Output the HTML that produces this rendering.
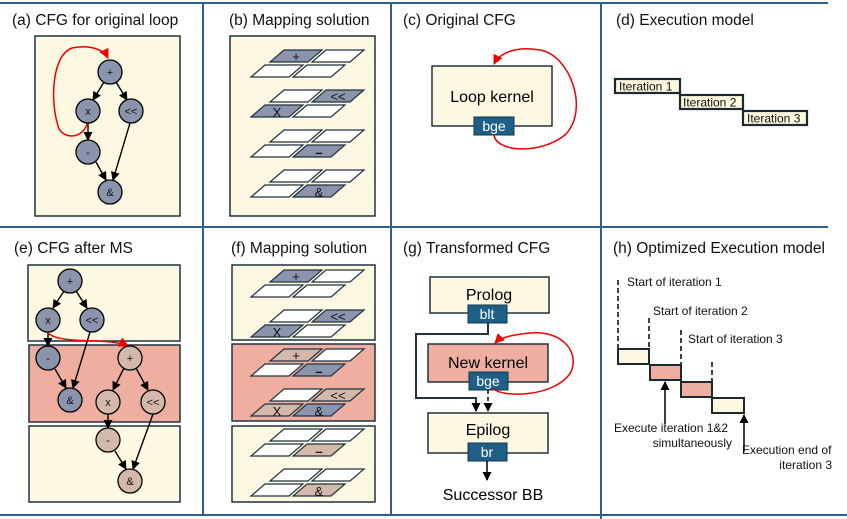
<!DOCTYPE html>
<html><head><meta charset="utf-8"><style>
html,body{margin:0;padding:0;background:#fff;}
svg{display:block;font-family:"Liberation Sans",sans-serif;}
</style></head><body>
<svg width="847" height="519" viewBox="0 0 847 519" xmlns="http://www.w3.org/2000/svg">
<defs>
<marker id="ab" markerWidth="9" markerHeight="9" refX="8" refY="4.5" orient="auto" markerUnits="userSpaceOnUse"><path d="M0,0 L9,4.5 L0,9 z" fill="#000"/></marker>
<marker id="ar" markerWidth="10" markerHeight="10" refX="9" refY="5" orient="auto" markerUnits="userSpaceOnUse"><path d="M0,0 L10,5 L0,10 z" fill="#e00"/></marker>
</defs>
<g stroke="#2e6189" stroke-width="2">
<line x1="0" y1="3" x2="828" y2="3"/>
<line x1="0" y1="227" x2="828" y2="227"/>
<line x1="0" y1="515" x2="847" y2="515"/>
<line x1="203" y1="3" x2="203" y2="515"/>
<line x1="391" y1="3" x2="391" y2="515"/>
<line x1="601" y1="3" x2="601" y2="519"/>
</g>
<g font-size="15.5" fill="#111">
<text x="12" y="25">(a) CFG for original loop</text>
<text x="229" y="25">(b) Mapping solution</text>
<text x="403" y="25">(c) Original CFG</text>
<text x="616" y="25">(d) Execution model</text>
<text x="14" y="253">(e) CFG after MS</text>
<text x="231" y="253">(f) Mapping solution</text>
<text x="403" y="253">(g) Transformed CFG</text>
<text x="613" y="253">(h) Optimized Execution model</text>
</g>

<!-- (a) -->
<rect x="35" y="36" width="145" height="180" fill="#fdf8e1" stroke="#1f3340" stroke-width="1.5"/>
<g stroke="#000" stroke-width="1.4" fill="none">
<line x1="104" y1="82" x2="93" y2="100" marker-end="url(#ab)"/>
<line x1="116" y1="82" x2="127" y2="100" marker-end="url(#ab)"/>
<line x1="88" y1="123" x2="88" y2="140" marker-end="url(#ab)"/>
<line x1="96" y1="162" x2="106" y2="180" marker-end="url(#ab)"/>
<line x1="130" y1="123" x2="113" y2="180" marker-end="url(#ab)"/>
</g>
<path d="M88,121 C84,140 62,140 58,126 C50,100 52,55 72,48 C90,44 104,50 108,58" fill="none" stroke="#e00" stroke-width="1.5" marker-end="url(#ar)"/>
<g fill="#8a94ad" stroke="#000" stroke-width="1.3">
<circle cx="110" cy="72" r="12"/><circle cx="88" cy="111" r="12"/><circle cx="131" cy="111" r="12"/><circle cx="88" cy="152" r="12"/><circle cx="110" cy="192" r="12"/>
</g>
<g font-size="11" text-anchor="middle" fill="#111">
<text x="110" y="76">+</text><text x="88" y="115">x</text><text x="131" y="115">&lt;&lt;</text><text x="88" y="156">-</text><text x="110" y="196">&amp;</text>
</g>

<!-- (b) -->
<rect x="230" y="36" width="145" height="180" fill="#fdf8e1" stroke="#1f3340" stroke-width="1.5"/>

<!-- (c) -->
<rect x="432" y="66" width="120" height="60" fill="#fdf8e1" stroke="#1f3340" stroke-width="1.5"/>
<text x="492" y="102" font-size="16" text-anchor="middle">Loop kernel</text>
<rect x="474" y="117" width="40" height="18" fill="#1f5f86" stroke="#10354d"/>
<text x="494" y="131" font-size="14" fill="#fff" text-anchor="middle">bge</text>
<path d="M494,135 C496,152 540,155 565,135 C590,110 570,55 540,50 C518,46 500,52 494,64" fill="none" stroke="#e00" stroke-width="1.5" marker-end="url(#ar)"/>

<!-- (d) -->
<g stroke="#1a2a30" stroke-width="2.2" fill="#fdf8e1">
<rect x="615" y="79" width="65" height="14"/><rect x="680" y="95" width="63" height="14"/><rect x="743" y="111" width="64" height="14"/>
</g>
<g font-size="12" fill="#111">
<text x="619" y="90.5">Iteration 1</text><text x="683" y="106.5">Iteration 2</text><text x="747" y="122.5">Iteration 3</text>
</g>

<!-- (e) -->
<rect x="28" y="265" width="152" height="76" fill="#fdf8e1" stroke="#1f3340" stroke-width="1.5"/>
<rect x="29" y="345" width="151" height="77" fill="#eeafa0" stroke="#1f3340" stroke-width="1.5"/>
<rect x="29" y="426" width="151" height="76" fill="#fdf8e1" stroke="#1f3340" stroke-width="1.5"/>
<g stroke="#000" stroke-width="1.4" fill="none">
<line x1="64" y1="291" x2="53" y2="308" marker-end="url(#ab)"/>
<line x1="76" y1="291" x2="87" y2="308" marker-end="url(#ab)"/>
<line x1="48" y1="332" x2="48" y2="346" marker-end="url(#ab)"/>
<line x1="55" y1="369" x2="66" y2="388" marker-end="url(#ab)"/>
<line x1="90" y1="332" x2="73" y2="388" marker-end="url(#ab)"/>
<line x1="124" y1="368" x2="113" y2="390" marker-end="url(#ab)"/>
<line x1="136" y1="368" x2="148" y2="390" marker-end="url(#ab)"/>
<line x1="108" y1="414" x2="108" y2="428" marker-end="url(#ab)"/>
<line x1="115" y1="451" x2="126" y2="469" marker-end="url(#ab)"/>
<line x1="153" y1="414" x2="133" y2="469" marker-end="url(#ab)"/>
</g>
<path d="M48,333 C60,345 110,337 128,346" fill="none" stroke="#e00" stroke-width="1.5" marker-end="url(#ar)"/>
<g fill="#8a94ad" stroke="#000" stroke-width="1.3">
<circle cx="70" cy="281" r="12"/><circle cx="48" cy="320" r="12"/><circle cx="92" cy="320" r="12"/><circle cx="48" cy="358" r="12"/><circle cx="70" cy="400" r="12"/>
</g>
<g fill="#d4b9aa" stroke="#000" stroke-width="1.3">
<circle cx="130" cy="358" r="12"/><circle cx="108" cy="402" r="12"/><circle cx="153" cy="402" r="12"/><circle cx="108" cy="440" r="12"/><circle cx="130" cy="481" r="12"/>
</g>
<g font-size="11" text-anchor="middle" fill="#111">
<text x="70" y="285">+</text><text x="48" y="324">x</text><text x="92" y="324">&lt;&lt;</text><text x="48" y="362">-</text><text x="70" y="404">&amp;</text>
<text x="130" y="362">+</text><text x="108" y="406">x</text><text x="153" y="406">&lt;&lt;</text><text x="108" y="444">-</text><text x="130" y="485">&amp;</text>
</g>

<!-- (f) boxes -->
<rect x="232" y="265" width="143" height="75" fill="#fdf8e1" stroke="#1f3340" stroke-width="1.5"/>
<rect x="232" y="344" width="143" height="77" fill="#eeafa0" stroke="#1f3340" stroke-width="1.5"/>
<rect x="232" y="426" width="143" height="76" fill="#fdf8e1" stroke="#1f3340" stroke-width="1.5"/>

<!-- (g) -->
<rect x="430" y="277" width="119" height="36" fill="#fdf8e1" stroke="#1f3340" stroke-width="1.5"/>
<text x="489" y="300" font-size="16" text-anchor="middle">Prolog</text>
<rect x="468" y="305" width="39" height="18" fill="#1f5f86" stroke="#10354d"/>
<text x="487" y="319" font-size="14" fill="#fff" text-anchor="middle">blt</text>
<rect x="428" y="344" width="120" height="38" fill="#eeafa0" stroke="#1f3340" stroke-width="1.5"/>
<text x="488" y="368" font-size="16" text-anchor="middle">New kernel</text>
<rect x="469" y="372" width="39" height="18" fill="#1f5f86" stroke="#10354d"/>
<text x="488" y="386" font-size="14" fill="#fff" text-anchor="middle">bge</text>
<rect x="428" y="413" width="120" height="40" fill="#fdf8e1" stroke="#1f3340" stroke-width="1.5"/>
<text x="488" y="435" font-size="16" text-anchor="middle">Epilog</text>
<rect x="468" y="443" width="39" height="18" fill="#1f5f86" stroke="#10354d"/>
<text x="487" y="457" font-size="14" fill="#fff" text-anchor="middle">br</text>
<path d="M488,323 V334 H416 V398 H476 V411" fill="none" stroke="#1f3340" stroke-width="2" marker-end="url(#ab)"/>
<line x1="488" y1="390" x2="488" y2="411" stroke="#000" stroke-width="1.5" stroke-dasharray="4,3" marker-end="url(#ab)"/>
<line x1="487" y1="461" x2="487" y2="480" stroke="#000" stroke-width="1.5" marker-end="url(#ab)"/>
<text x="493" y="500" font-size="16" text-anchor="middle">Successor BB</text>
<path d="M493,388 C500,398 555,398 571,372 C580,350 560,330 530,333 C510,335 500,338 495,343" fill="none" stroke="#e00" stroke-width="1.5" marker-end="url(#ar)"/>

<!-- (h) -->
<g stroke="#000" stroke-width="1.5" stroke-dasharray="5,3">
<line x1="618" y1="280" x2="618" y2="349"/>
<line x1="649" y1="318" x2="649" y2="365"/>
<line x1="681" y1="330" x2="681" y2="381"/>
<line x1="712" y1="362" x2="712" y2="398"/>
</g>
<g stroke="#1a2a30" stroke-width="2">
<rect x="618" y="349" width="31" height="15" fill="#fdf8e1"/>
<rect x="650" y="365" width="31" height="15" fill="#eeafa0"/>
<rect x="681" y="382" width="31" height="15" fill="#eeafa0"/>
<rect x="712" y="398" width="32" height="15" fill="#fdf8e1"/>
</g>
<line x1="665" y1="424" x2="665" y2="382" stroke="#000" stroke-width="1.5" marker-end="url(#ab)"/>
<line x1="744" y1="452" x2="744" y2="415" stroke="#000" stroke-width="1.5" marker-end="url(#ab)"/>
<g font-size="12" fill="#111">
<text x="627" y="286">Start of iteration 1</text>
<text x="653" y="315">Start of iteration 2</text>
<text x="688" y="343">Start of iteration 3</text>
<text x="614" y="432">Execute iteration 1&amp;2</text>
<text x="732" y="447" text-anchor="end">simultaneously</text>
<text x="742" y="454">Execution end of</text>
<text x="832" y="469" text-anchor="end">iteration 3</text>
</g>

<!-- mapping cells -->
<g stroke="#1f3340" stroke-width="1.2">
<polygon points="284,50 322,50 308,62 270,62" fill="#8a94ad"/><polygon points="326,50 364,50 350,62 312,62" fill="#fff"/>
<polygon points="265,65 303,65 289,77 251,77" fill="#fff"/><polygon points="307,65 345,65 331,77 293,77" fill="#fff"/>
<polygon points="284,90 322,90 308,102 270,102" fill="#fff"/><polygon points="326,90 364,90 350,102 312,102" fill="#8a94ad"/>
<polygon points="265,105 303,105 289,117 251,117" fill="#8a94ad"/><polygon points="307,105 345,105 331,117 293,117" fill="#fff"/>
<polygon points="284,130 322,130 308,142 270,142" fill="#fff"/><polygon points="326,130 364,130 350,142 312,142" fill="#fff"/>
<polygon points="265,145 303,145 289,157 251,157" fill="#fff"/><polygon points="307,145 345,145 331,157 293,157" fill="#8a94ad"/>
<polygon points="284,170 322,170 308,182 270,182" fill="#fff"/><polygon points="326,170 364,170 350,182 312,182" fill="#fff"/>
<polygon points="265,185 303,185 289,197 251,197" fill="#fff"/><polygon points="307,185 345,185 331,197 293,197" fill="#8a94ad"/>

<polygon points="284,270 322,270 308,282 270,282" fill="#8a94ad"/><polygon points="326,270 364,270 350,282 312,282" fill="#fff"/>
<polygon points="265,285 303,285 289,297 251,297" fill="#fff"/><polygon points="307,285 345,285 331,297 293,297" fill="#fff"/>
<polygon points="284,310 322,310 308,322 270,322" fill="#fff"/><polygon points="326,310 364,310 350,322 312,322" fill="#8a94ad"/>
<polygon points="265,325 303,325 289,337 251,337" fill="#8a94ad"/><polygon points="307,325 345,325 331,337 293,337" fill="#fff"/>
<polygon points="284,349 322,349 308,361 270,361" fill="#d4b9aa"/><polygon points="326,349 364,349 350,361 312,361" fill="#fff"/>
<polygon points="265,364 303,364 289,376 251,376" fill="#fff"/><polygon points="307,364 345,364 331,376 293,376" fill="#8a94ad"/>
<polygon points="284,389 322,389 308,401 270,401" fill="#fff"/><polygon points="326,389 364,389 350,401 312,401" fill="#d4b9aa"/>
<polygon points="265,404 303,404 289,416 251,416" fill="#d4b9aa"/><polygon points="307,404 345,404 331,416 293,416" fill="#8a94ad"/>
<polygon points="284,429 322,429 308,441 270,441" fill="#fff"/><polygon points="326,429 364,429 350,441 312,441" fill="#fff"/>
<polygon points="265,444 303,444 289,456 251,456" fill="#fff"/><polygon points="307,444 345,444 331,456 293,456" fill="#d4b9aa"/>
<polygon points="284,469 322,469 308,481 270,481" fill="#fff"/><polygon points="326,469 364,469 350,481 312,481" fill="#fff"/>
<polygon points="265,484 303,484 289,496 251,496" fill="#fff"/><polygon points="307,484 345,484 331,496 293,496" fill="#d4b9aa"/>
</g>
<g font-size="13" text-anchor="middle" fill="#111">
<text x="296" y="61">+</text><text x="338" y="101">&lt;&lt;</text><text x="277" y="117">X</text><text x="319" y="157" font-weight="bold">–</text><text x="319" y="197">&amp;</text>
<text x="296" y="281">+</text><text x="338" y="321">&lt;&lt;</text><text x="277" y="337">X</text>
<text x="296" y="360">+</text><text x="319" y="376" font-weight="bold">–</text>
<text x="338" y="400">&lt;&lt;</text><text x="277" y="416">X</text><text x="319" y="416">&amp;</text>
<text x="319" y="456" font-weight="bold">–</text><text x="319" y="496">&amp;</text>
</g>
</svg>
</body></html>
